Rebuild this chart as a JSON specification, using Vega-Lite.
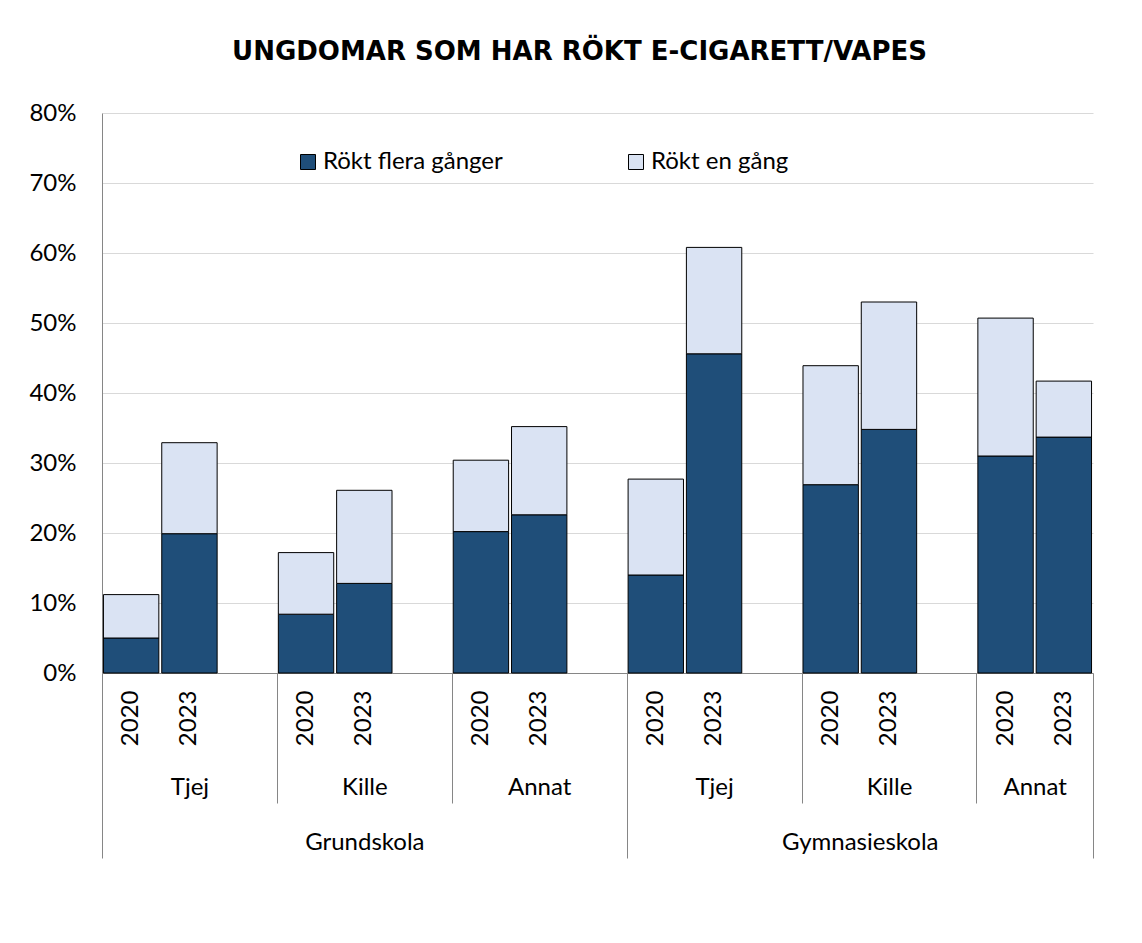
{
  "$schema": "https://vega.github.io/schema/vega-lite/v6.json",
  "autosize": {"type": "none"},
  "padding": {"left": 102, "top": 113, "right": 49, "bottom": 270},
  "width": 991,
  "height": 560,
  "background": "white",
  "title": {
    "text": "UNGDOMAR SOM HAR RÖKT E-CIGARETT/VAPES",
    "font": "DejaVu Sans",
    "fontSize": 26,
    "fontWeight": "bold",
    "color": "#000000",
    "frame": "group",
    "anchor": "middle",
    "baseline": "alphabetic",
    "offset": 15,
    "dx": -18
  },
  "data": {
    "values": [
      {"skola": "Grundskola", "kon": "Tjej", "ar": "2020", "stapel": "Grundskola Tjej 2020", "serie": "Rökt flera gånger", "andel": 0.050},
      {"skola": "Grundskola", "kon": "Tjej", "ar": "2020", "stapel": "Grundskola Tjej 2020", "serie": "Rökt en gång", "andel": 0.062},
      {"skola": "Grundskola", "kon": "Tjej", "ar": "2023", "stapel": "Grundskola Tjej 2023", "serie": "Rökt flera gånger", "andel": 0.199},
      {"skola": "Grundskola", "kon": "Tjej", "ar": "2023", "stapel": "Grundskola Tjej 2023", "serie": "Rökt en gång", "andel": 0.130},
      {"skola": "Grundskola", "kon": "Kille", "ar": "2020", "stapel": "Grundskola Kille 2020", "serie": "Rökt flera gånger", "andel": 0.084},
      {"skola": "Grundskola", "kon": "Kille", "ar": "2020", "stapel": "Grundskola Kille 2020", "serie": "Rökt en gång", "andel": 0.088},
      {"skola": "Grundskola", "kon": "Kille", "ar": "2023", "stapel": "Grundskola Kille 2023", "serie": "Rökt flera gånger", "andel": 0.128},
      {"skola": "Grundskola", "kon": "Kille", "ar": "2023", "stapel": "Grundskola Kille 2023", "serie": "Rökt en gång", "andel": 0.133},
      {"skola": "Grundskola", "kon": "Annat", "ar": "2020", "stapel": "Grundskola Annat 2020", "serie": "Rökt flera gånger", "andel": 0.202},
      {"skola": "Grundskola", "kon": "Annat", "ar": "2020", "stapel": "Grundskola Annat 2020", "serie": "Rökt en gång", "andel": 0.102},
      {"skola": "Grundskola", "kon": "Annat", "ar": "2023", "stapel": "Grundskola Annat 2023", "serie": "Rökt flera gånger", "andel": 0.226},
      {"skola": "Grundskola", "kon": "Annat", "ar": "2023", "stapel": "Grundskola Annat 2023", "serie": "Rökt en gång", "andel": 0.126},
      {"skola": "Gymnasieskola", "kon": "Tjej", "ar": "2020", "stapel": "Gymnasieskola Tjej 2020", "serie": "Rökt flera gånger", "andel": 0.140},
      {"skola": "Gymnasieskola", "kon": "Tjej", "ar": "2020", "stapel": "Gymnasieskola Tjej 2020", "serie": "Rökt en gång", "andel": 0.137},
      {"skola": "Gymnasieskola", "kon": "Tjej", "ar": "2023", "stapel": "Gymnasieskola Tjej 2023", "serie": "Rökt flera gånger", "andel": 0.456},
      {"skola": "Gymnasieskola", "kon": "Tjej", "ar": "2023", "stapel": "Gymnasieskola Tjej 2023", "serie": "Rökt en gång", "andel": 0.152},
      {"skola": "Gymnasieskola", "kon": "Kille", "ar": "2020", "stapel": "Gymnasieskola Kille 2020", "serie": "Rökt flera gånger", "andel": 0.269},
      {"skola": "Gymnasieskola", "kon": "Kille", "ar": "2020", "stapel": "Gymnasieskola Kille 2020", "serie": "Rökt en gång", "andel": 0.170},
      {"skola": "Gymnasieskola", "kon": "Kille", "ar": "2023", "stapel": "Gymnasieskola Kille 2023", "serie": "Rökt flera gånger", "andel": 0.348},
      {"skola": "Gymnasieskola", "kon": "Kille", "ar": "2023", "stapel": "Gymnasieskola Kille 2023", "serie": "Rökt en gång", "andel": 0.182},
      {"skola": "Gymnasieskola", "kon": "Annat", "ar": "2020", "stapel": "Gymnasieskola Annat 2020", "serie": "Rökt flera gånger", "andel": 0.310},
      {"skola": "Gymnasieskola", "kon": "Annat", "ar": "2020", "stapel": "Gymnasieskola Annat 2020", "serie": "Rökt en gång", "andel": 0.197},
      {"skola": "Gymnasieskola", "kon": "Annat", "ar": "2023", "stapel": "Gymnasieskola Annat 2023", "serie": "Rökt flera gånger", "andel": 0.337},
      {"skola": "Gymnasieskola", "kon": "Annat", "ar": "2023", "stapel": "Gymnasieskola Annat 2023", "serie": "Rökt en gång", "andel": 0.080}
    ]
  },
  "layer": [
    {
      "mark": {"type": "bar", "stroke": "#000000", "strokeWidth": 1},
      "encoding": {
        "x": {
          "field": "stapel",
          "type": "nominal",
          "scale": {
            "domain": [
              "Grundskola Tjej 2020", "Grundskola Tjej 2023", "gap1",
              "Grundskola Kille 2020", "Grundskola Kille 2023", "gap2",
              "Grundskola Annat 2020", "Grundskola Annat 2023", "gap3",
              "Gymnasieskola Tjej 2020", "Gymnasieskola Tjej 2023", "gap4",
              "Gymnasieskola Kille 2020", "Gymnasieskola Kille 2023", "gap5",
              "Gymnasieskola Annat 2020", "Gymnasieskola Annat 2023"
            ],
            "paddingInner": 0.05,
            "paddingOuter": 0.025
          },
          "axis": {
            "orient": "bottom",
            "title": null,
            "values": [
              "Grundskola Tjej 2020", "Grundskola Tjej 2023",
              "Grundskola Kille 2020", "Grundskola Kille 2023",
              "Grundskola Annat 2020", "Grundskola Annat 2023",
              "Gymnasieskola Tjej 2020", "Gymnasieskola Tjej 2023",
              "Gymnasieskola Kille 2020", "Gymnasieskola Kille 2023",
              "Gymnasieskola Annat 2020", "Gymnasieskola Annat 2023"
            ],
            "labelExpr": "slice(datum.value, -4)",
            "labelAngle": -90,
            "labelAlign": "right",
            "labelBaseline": "middle",
            "labelPadding": 17,
            "ticks": false,
            "domain": true,
            "domainColor": "#868686",
            "domainWidth": 1,
            "grid": false
          }
        },
        "y": {
          "field": "andel",
          "type": "quantitative",
          "stack": "zero",
          "scale": {"domain": [0, 0.8], "nice": false},
          "axis": {
            "title": null,
            "values": [0, 0.1, 0.2, 0.3, 0.4, 0.5, 0.6, 0.7, 0.8],
            "format": ".0%",
            "grid": true,
            "gridColor": "#D9D9D9",
            "gridWidth": 1,
            "ticks": false,
            "domain": true,
            "domainColor": "#868686",
            "labelPadding": 26
          }
        },
        "color": {
          "field": "serie",
          "type": "nominal",
          "scale": {
            "domain": ["Rökt flera gånger", "Rökt en gång"],
            "range": ["#1F4E79", "#DAE3F3"]
          },
          "legend": {
            "title": null,
            "orient": "none",
            "legendX": 194,
            "legendY": 37,
            "direction": "horizontal",
            "columns": 2,
            "columnPadding": 121,
            "symbolType": "square",
            "symbolSize": 225,
            "symbolStrokeColor": "#000000",
            "symbolStrokeWidth": 1,
            "labelFont": "Lato",
            "labelFontSize": 24,
            "labelColor": "#000000",
            "labelLimit": 0,
            "labelOffset": 3,
            "padding": 0
          }
        },
        "order": {"field": "serie", "sort": "descending"}
      }
    },
    {
      "mark": {"type": "rule", "opacity": 0},
      "encoding": {
        "x": {
          "datum": 0,
          "type": "quantitative",
          "scale": {"domain": [0, 17], "nice": false, "zero": false},
          "axis": {
            "orient": "bottom",
            "title": null,
            "values": [0, 3, 6, 9, 12, 15, 17],
            "labels": false,
            "domain": false,
            "grid": false,
            "ticks": true,
            "tickColor": "#868686",
            "tickWidth": 1,
            "tickSize": {
              "condition": {"test": "datum.value == 0 || datum.value == 9 || datum.value == 17", "value": 185},
              "value": 130
            }
          }
        }
      }
    },
    {
      "mark": {"type": "rule", "opacity": 0},
      "encoding": {
        "x": {
          "datum": 0,
          "type": "quantitative",
          "scale": {"domain": [0, 17], "nice": false, "zero": false},
          "axis": {
            "orient": "bottom",
            "title": null,
            "values": [1.5, 4.5, 7.5, 10.5, 13.5, 16],
            "labelExpr": "datum.value == 1.5 || datum.value == 10.5 ? 'Tjej' : (datum.value == 4.5 || datum.value == 13.5 ? 'Kille' : 'Annat')",
            "labelFlush": false,
            "labelOverlap": false,
            "labelPadding": 102,
            "ticks": false,
            "domain": false,
            "grid": false
          }
        }
      }
    },
    {
      "mark": {"type": "rule", "opacity": 0},
      "encoding": {
        "x": {
          "datum": 0,
          "type": "quantitative",
          "scale": {"domain": [0, 17], "nice": false, "zero": false},
          "axis": {
            "orient": "bottom",
            "title": null,
            "values": [4.5, 13],
            "labelExpr": "datum.value < 9 ? 'Grundskola' : 'Gymnasieskola'",
            "labelFlush": false,
            "labelOverlap": false,
            "labelPadding": 157,
            "ticks": false,
            "domain": false,
            "grid": false
          }
        }
      }
    }
  ],
  "resolve": {"scale": {"x": "independent"}, "axis": {"x": "independent"}},
  "config": {
    "font": "Lato",
    "view": {"stroke": null},
    "axis": {"labelFont": "Lato", "labelFontSize": 24, "labelColor": "#000000"}
  }
}
